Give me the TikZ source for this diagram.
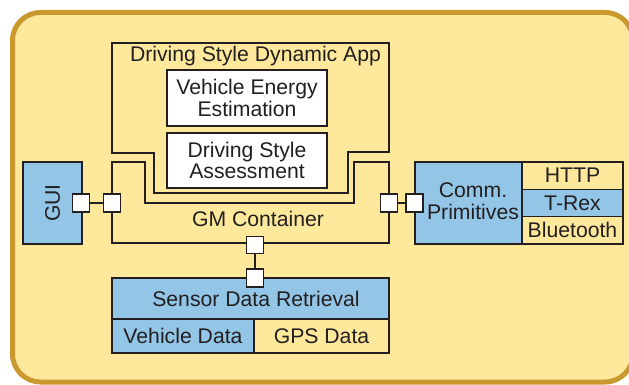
\documentclass[tikz,border=0pt]{standalone}
\usepackage{fontspec}
\setmainfont{Liberation Sans}
\definecolor{panelfill}{HTML}{FDE89B}
\definecolor{panelrim}{HTML}{C9982F}
\definecolor{modblue}{HTML}{93C6E6}
\definecolor{ink}{HTML}{231F20}
\tikzset{
  txt/.style={font=\fontsize{21.2}{21.5}\selectfont, text=ink, inner sep=0pt, align=center},
  blk/.style={draw=ink, line width=1.2pt, inner sep=0pt, txt},
  port/.style={draw=ink, line width=1.2pt, fill=white, inner sep=0pt,
               minimum width=17pt, minimum height=18pt},
  wire/.style={draw=ink, line width=1.2pt},
}
\begin{document}
\begin{tikzpicture}[x=1pt,y=-1pt]
\useasboundingbox (0,0) rectangle (629,385);
\clip (0,0) rectangle (629,385);

% rounded panel behind everything (its right side runs past the page edge)
\draw[line width=5pt, draw=panelrim, fill=panelfill, rounded corners=28pt]
  (12.5,12.5) rectangle (633,382);

% application outline with its stepped lower edge
\draw[wire] (112,43) -- (389,43) -- (389,152) -- (348,152) -- (348,193)
  -- (154,193) -- (154,153) -- (112,153) -- cycle;
\node[txt] (apptitle) at (255.5,56) {Driving Style Dynamic App};
\node[blk, fill=white, minimum width=160pt, minimum height=56pt] (vee) at (247,98)
  {Vehicle Energy\\Estimation};
\node[blk, fill=white, minimum width=160pt, minimum height=55pt] (dsa) at (247,160.5)
  {Driving Style\\Assessment};

% container outline with its notched top edge
\draw[wire] (112,162) -- (145,162) -- (145,203) -- (354,203) -- (354,162)
  -- (389,162) -- (389,243) -- (112,243) -- cycle;
\node[txt] (gmtitle) at (258,218.5) {GM Container};

% GUI block, label reads upwards
\node[blk, fill=modblue, rotate=90, minimum width=82pt, minimum height=59pt] (gui)
  at (52.5,203) {GUI};

% communication block and its protocol stack
\node[blk, fill=modblue, minimum width=107pt, minimum height=82pt] (comm) at (468.5,203) {};
\node[txt] (commtext) at (473,201) {Comm.\\Primitives};
\node[blk, fill=panelfill, minimum width=101pt, minimum height=27.33pt] (http) at (572.5,175.67) {HTTP};
\node[blk, fill=modblue, minimum width=101pt, minimum height=27.33pt] (trex) at (572.5,203) {T-Rex};
\node[blk, fill=panelfill, minimum width=101pt, minimum height=27.33pt] (bt) at (572.5,230.33) {Bluetooth};

% sensor block
\node[blk, fill=modblue, minimum width=277pt, minimum height=41pt] (sdr) at (250.5,298.5) {};
\node[txt] (sdrtext) at (256,298.5) {Sensor Data Retrieval};
\node[blk, fill=modblue, minimum width=142pt, minimum height=34pt] (vdata) at (183,336) {Vehicle Data};
\node[blk, fill=panelfill, minimum width=135pt, minimum height=34pt] (gps) at (321.5,336) {GPS Data};

% ports
\node[port] (pgui) at (81,203) {};
\node[port] (pgml) at (112,203) {};
\node[port] (pgmr) at (389,203) {};
\node[port] (pcomm) at (414.5,203) {};
\node[port, minimum height=17pt] (pgmb) at (255,245) {};
\node[port] (psdr) at (255,278) {};

% port links
\draw[wire] (pgui) -- (pgml);
\draw[wire] (pgmr) -- (pcomm);
\draw[wire] (pgmb) -- (psdr);
\end{tikzpicture}
\end{document}
